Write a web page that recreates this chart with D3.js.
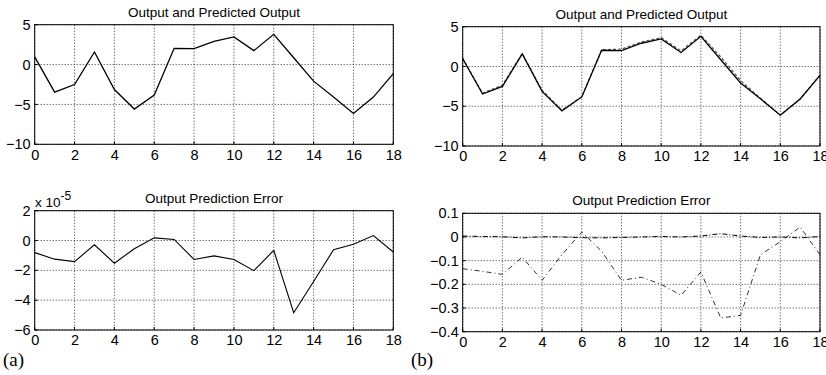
<!DOCTYPE html>
<html>
<head>
<meta charset="utf-8">
<script src="https://cdn.jsdelivr.net/npm/d3@7"></script>
<style>
body { margin: 0; background: #fff; }
text { font-family: "Liberation Sans", Arial, sans-serif; fill: #000; }
</style>
</head>
<body>
<div id="chart"></div>
<script>
// sample index
var steps = [0,1,2,3,4,5,6,7,8,9,10,11,12,13,14,15,16,17,18];
var xTicks = [0,2,4,6,8,10,12,14,16,18];

// (a) output, and prediction error (x 1e-5)
var outputA = [0.97,-3.46,-2.5,1.58,-3.13,-5.58,-3.83,2.04,2.0,2.92,3.46,1.75,3.79,0.85,-2.08,-4.06,-6.13,-4.08,-1.13];
var errorA = [-0.81,-1.25,-1.41,-0.29,-1.52,-0.55,0.18,0.07,-1.27,-1.03,-1.27,-2.02,-0.66,-4.84,-2.75,-0.62,-0.25,0.33,-0.77];

// (b) output, predicted output, two prediction errors
var outputB = [0.97,-3.46,-2.5,1.58,-3.13,-5.58,-3.83,2.04,2.0,2.92,3.46,1.75,3.79,0.85,-2.08,-4.06,-6.13,-4.08,-1.13];
var predictedB = [1.05,-3.35,-2.35,1.62,-3.0,-5.5,-3.8,2.1,2.18,3.08,3.62,1.98,3.92,1.2,-1.78,-4.0,-6.1,-4.1,-1.08];
var errorB1 = [-0.134,-0.145,-0.158,-0.085,-0.183,-0.075,0.021,-0.06,-0.183,-0.17,-0.2,-0.246,-0.148,-0.342,-0.331,-0.075,-0.02,0.042,-0.075];
var errorB2 = [0.004,0.002,0.001,-0.004,0.001,0.0,-0.003,-0.004,-0.002,0.0,0.002,0.0,0.004,0.014,0.004,-0.002,0.0,-0.004,0.002];

var outTicks = [-10,-5,0,5];
var errATicks = [-6,-4,-2,0,2];
var errBTicks = [-0.4,-0.3,-0.2,-0.1,0,0.1];

var svg = d3.select("#chart").append("svg")
    .attr("width", 826)
    .attr("height", 375);

function drawPanel(box, yDomain, yTicks, yFmt, title, series) {
    var g = svg.append("g");
    var x = d3.scaleLinear().domain([0, 18]).range([box.left, box.right]);
    var y = d3.scaleLinear().domain(yDomain).range([box.bottom, box.top]);

    // grid
    g.selectAll(".gx").data(xTicks).enter().append("line")
        .attr("x1", function(d) { return x(d); })
        .attr("x2", function(d) { return x(d); })
        .attr("y1", box.top).attr("y2", box.bottom)
        .attr("stroke", "#000").attr("stroke-width", 0.8)
        .attr("stroke-dasharray", "1,2");
    g.selectAll(".gy").data(yTicks).enter().append("line")
        .attr("x1", box.left).attr("x2", box.right)
        .attr("y1", function(d) { return y(d); })
        .attr("y2", function(d) { return y(d); })
        .attr("stroke", "#000").attr("stroke-width", 0.8)
        .attr("stroke-dasharray", "1,2");

    // axes, labels only
    var xa = g.append("g")
        .attr("transform", "translate(0," + box.bottom + ")")
        .call(d3.axisBottom(x).tickValues(xTicks).tickSize(0).tickPadding(5));
    xa.select(".domain").remove();
    xa.selectAll("text").style("font-size", "14.5px").style("font-family", "Liberation Sans, Arial, sans-serif");

    var ya = g.append("g")
        .attr("transform", "translate(" + box.left + ",0)")
        .call(d3.axisLeft(y).tickValues(yTicks).tickFormat(yFmt).tickSize(0).tickPadding(4));
    ya.select(".domain").remove();
    ya.selectAll("text").style("font-size", "14.5px").style("font-family", "Liberation Sans, Arial, sans-serif");

    // inner tick marks
    g.selectAll(".tx").data(xTicks).enter().append("line")
        .attr("x1", function(d) { return x(d); })
        .attr("x2", function(d) { return x(d); })
        .attr("y1", box.bottom).attr("y2", box.bottom - 3)
        .attr("stroke", "#000");
    g.selectAll(".ty").data(yTicks).enter().append("line")
        .attr("x1", box.left).attr("x2", box.left + 3)
        .attr("y1", function(d) { return y(d); })
        .attr("y2", function(d) { return y(d); })
        .attr("stroke", "#000");

    // series
    series.forEach(function(s) {
        g.append("path")
            .datum(s.values)
            .attr("fill", "none")
            .attr("stroke", s.color)
            .attr("stroke-width", s.width)
            .attr("stroke-dasharray", s.dash)
            .attr("d", d3.line()
                .x(function(d, i) { return x(steps[i]); })
                .y(function(d) { return y(d); }));
    });

    // frame
    g.append("rect")
        .attr("x", box.left).attr("y", box.top)
        .attr("width", box.right - box.left)
        .attr("height", box.bottom - box.top)
        .attr("fill", "none").attr("stroke", "#000").attr("stroke-width", 1);

    g.append("text")
        .attr("x", (box.left + box.right) / 2)
        .attr("y", box.top - 8)
        .attr("text-anchor", "middle")
        .style("font-size", "13.5px")
        .text(title);
    return g;
}

var fmtInt = d3.format("d");
var fmtErr = function(d) { return d === 0 ? "0" : d3.format(".1f")(d); };

drawPanel({left: 34.7, right: 393.3, top: 24.7, bottom: 144.3}, [-10, 5], outTicks, fmtInt,
    "Output and Predicted Output",
    [{values: outputA, color: "#000", width: 1.3, dash: null}]);

drawPanel({left: 462.7, right: 820, top: 26.7, bottom: 146}, [-10, 5], outTicks, fmtInt,
    "Output and Predicted Output",
    [{values: predictedB, color: "#555", width: 1.2, dash: "3,2"},
     {values: outputB, color: "#000", width: 1.3, dash: null}]);

var pa = drawPanel({left: 34.7, right: 393.3, top: 210.7, bottom: 330}, [-6, 2], errATicks, fmtInt,
    "Output Prediction Error",
    [{values: errorA, color: "#000", width: 1.1, dash: null}]);

// exponent label
var ex = pa.append("text").attr("x", 35).attr("y", 207).style("font-size", "13.5px");
ex.append("tspan").text("x 10");
ex.append("tspan").attr("dy", -7).style("font-size", "12px").text("-5");

drawPanel({left: 462.7, right: 820, top: 213.3, bottom: 331.7}, [-0.4, 0.1], errBTicks, fmtErr,
    "Output Prediction Error",
    [{values: errorB2, color: "#000", width: 1, dash: "5,2,1,2"},
     {values: errorB1, color: "#333", width: 1, dash: "5,3,1,3"}]);

svg.append("text").attr("x", 3).attr("y", 366)
    .style("font-family", "Liberation Serif, Times New Roman, serif")
    .style("font-size", "19px").text("(a)");
svg.append("text").attr("x", 411).attr("y", 366)
    .style("font-family", "Liberation Serif, Times New Roman, serif")
    .style("font-size", "19px").text("(b)");
</script>
</body>
</html>
